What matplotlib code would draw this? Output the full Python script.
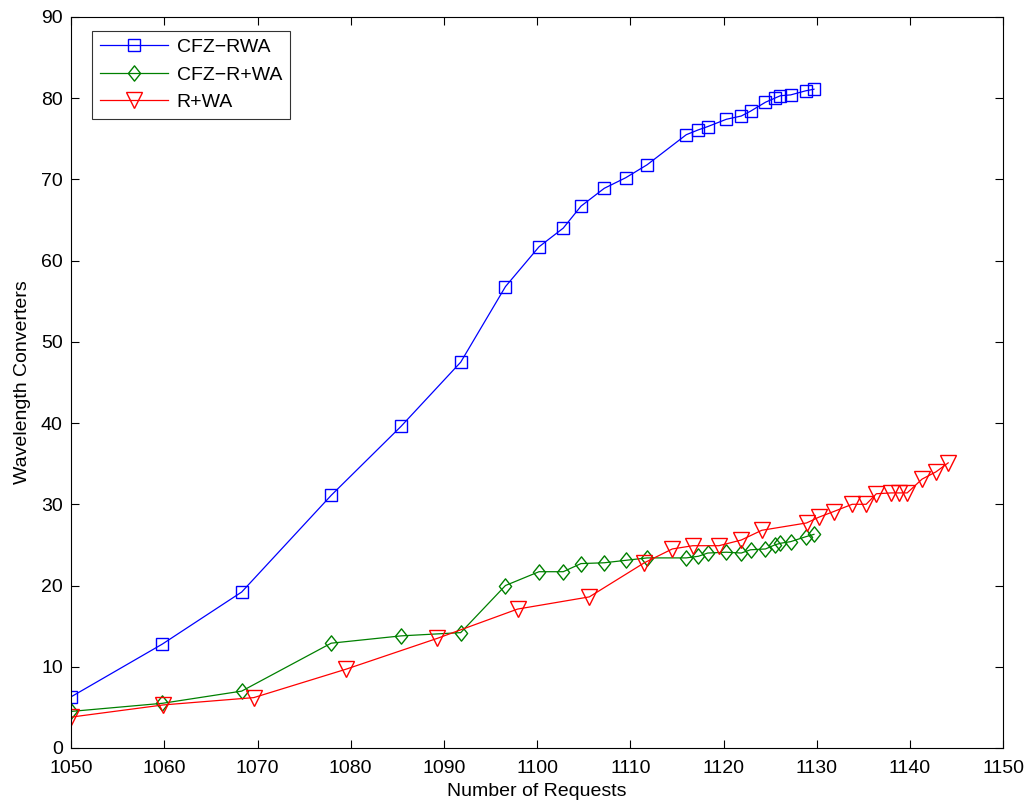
import matplotlib
matplotlib.use("Agg")
import matplotlib.pyplot as plt
from matplotlib.path import Path

x_common = [1050.0, 1059.8, 1068.3, 1077.9, 1085.4, 1091.8, 1096.6, 1100.2, 1102.8,
            1104.7, 1107.2, 1109.5, 1111.8, 1116.0, 1117.3, 1118.3, 1120.3, 1121.9,
            1122.9, 1124.5, 1125.5, 1126.1, 1127.2, 1128.8, 1129.7]
cfz_rwa = [6.3, 12.8, 19.2, 31.1, 39.6, 47.5, 56.8, 61.7, 64.0, 66.7, 68.9, 70.2,
           71.8, 75.5, 76.1, 76.5, 77.4, 77.8, 78.4, 79.5, 80.0, 80.3, 80.4, 80.9, 81.1]
cfz_r_wa = [4.5, 5.5, 7.0, 12.9, 13.8, 14.2, 20.0, 21.7, 21.7, 22.7, 22.8, 23.1,
            23.4, 23.4, 23.6, 24.0, 24.1, 24.0, 24.4, 24.5, 25.0, 25.2, 25.4, 26.0, 26.3]

x_rwa = [1050.0, 1059.9, 1069.6, 1079.5, 1089.3, 1097.9, 1105.6, 1111.5, 1114.5,
         1116.7, 1119.5, 1121.9, 1124.1, 1128.9, 1130.2, 1131.8, 1133.8, 1135.3,
         1136.4, 1138.0, 1138.8, 1139.7, 1141.3, 1142.8, 1144.1]
r_wa = [3.8, 5.3, 6.2, 9.7, 13.5, 17.1, 18.6, 22.8, 24.5, 24.9, 24.9, 25.6, 26.8,
        27.7, 28.4, 29.1, 30.0, 30.0, 31.3, 31.4, 31.4, 31.4, 33.1, 34.0, 35.1]

xticks = list(range(1050, 1151, 10))
yticks = list(range(0, 91, 10))

plt.rcParams['font.family'] = ['Liberation Sans', 'DejaVu Sans']

fig = plt.figure(figsize=(10.31, 8.06), dpi=100)
ax = fig.add_axes([0.069, 0.072, 0.904, 0.907])

diamond = Path([(0, 1), (0.8, 0), (0, -1), (-0.8, 0), (0, 1)],
               [Path.MOVETO, Path.LINETO, Path.LINETO, Path.LINETO, Path.CLOSEPOLY])

ax.plot(x_common, cfz_rwa, color='#0000ff', lw=0.9, marker='s', ms=8,
        mfc='none', mec='#0000ff', mew=1.0, label='CFZ\u2212RWA')
ax.plot(x_common, cfz_r_wa, color='#008000', lw=0.9, marker=diamond, ms=11,
        mfc='none', mec='#008000', mew=1.0, label='CFZ\u2212R+WA')
ax.plot(x_rwa, r_wa, color='#ff0000', lw=0.9, marker='v', ms=11,
        mfc='none', mec='#ff0000', mew=1.0, label='R+WA')

ax.set_xlim(1050, 1150)
ax.set_ylim(0, 90)
ax.set_xticks(xticks)
ax.set_yticks(yticks)
ax.tick_params(direction='in', top=True, right=True, labelsize=14, length=6)
ax.tick_params(axis='x', pad=9)
ax.tick_params(axis='y', pad=6)
ax.set_xlabel('Number of Requests', fontsize=14, labelpad=4)
ax.set_ylabel('Wavelength Converters', fontsize=14, labelpad=7)
for s in ax.spines.values():
    s.set_linewidth(0.8)

leg = ax.legend(loc='upper left', bbox_to_anchor=(0.0225, 0.981), borderaxespad=0,
                fontsize=14, frameon=True, fancybox=False, edgecolor='black',
                handlelength=3.5, borderpad=0.4, labelspacing=0.5,
                handletextpad=0.45)
leg.get_frame().set_linewidth(0.8)

fig.savefig('out.png', dpi=100)
